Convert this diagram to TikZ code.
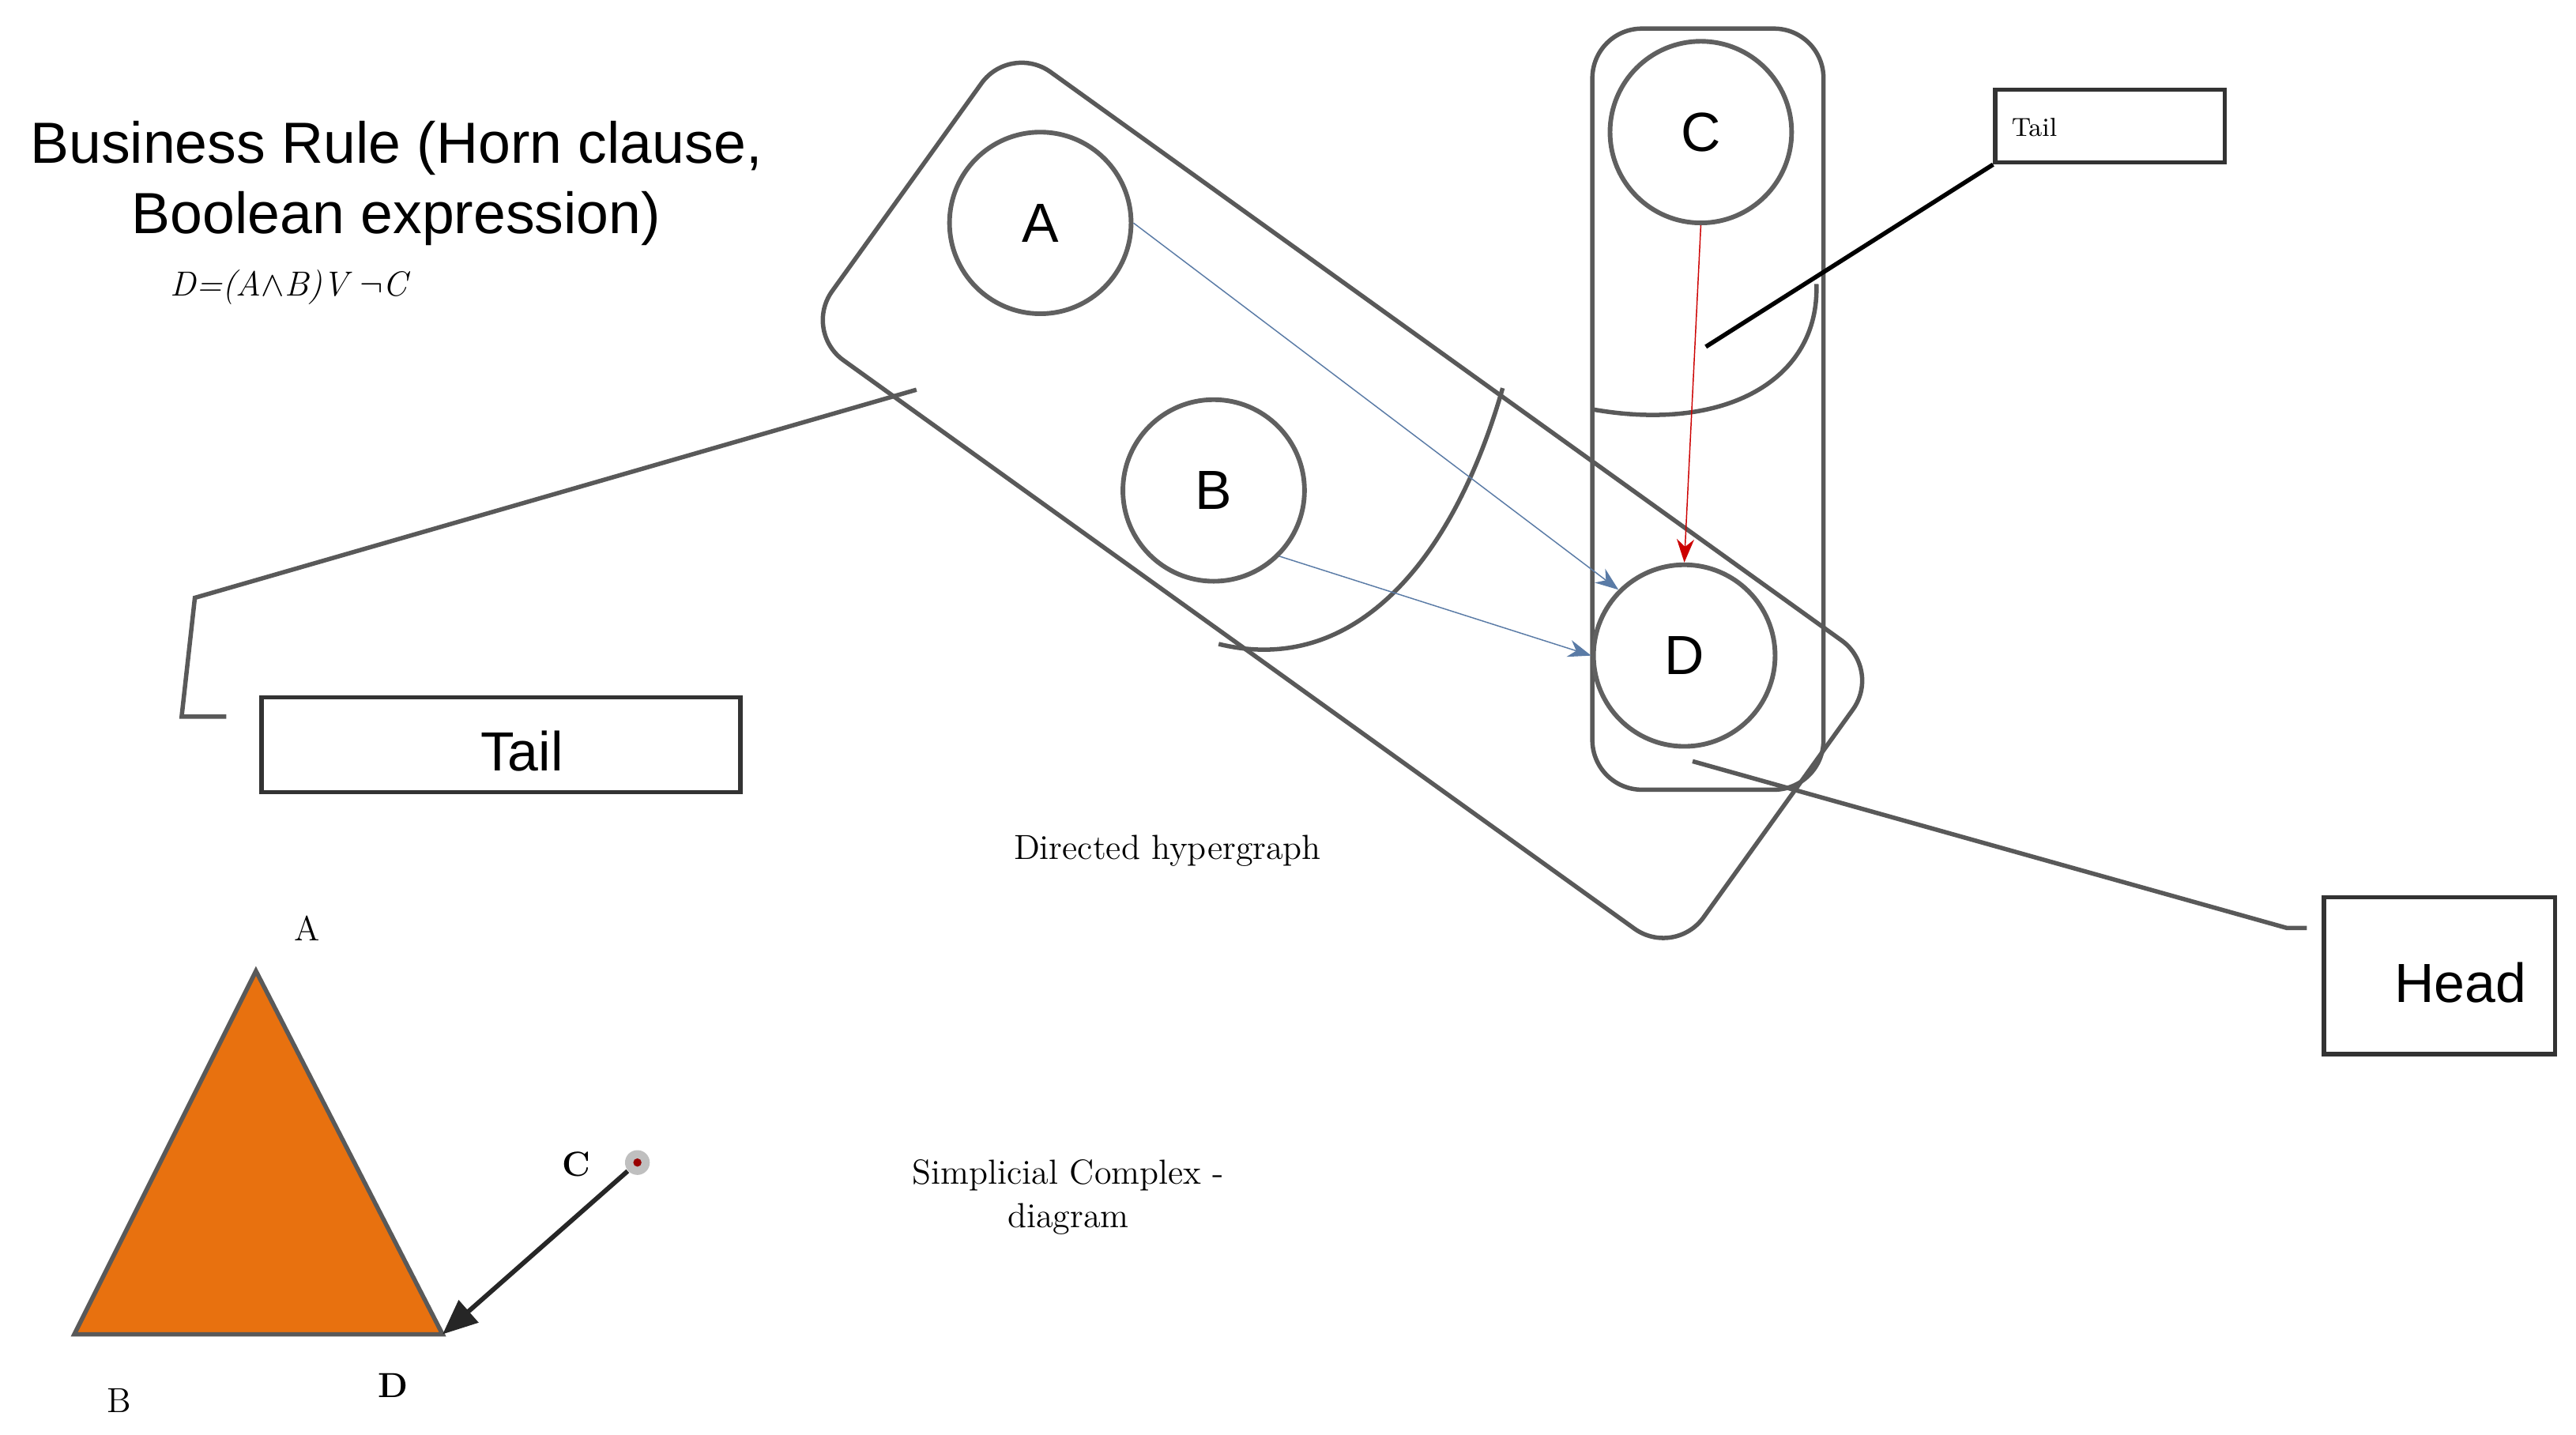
\documentclass[tikz,border=0pt]{standalone}
\usepackage{fontspec}
\newfontfamily\sansf{Liberation Sans}
\usetikzlibrary{arrows.meta}
\definecolor{orangefill}{HTML}{E8710F}
\definecolor{edgeblue}{HTML}{5A7BA6}
\begin{document}
\begin{tikzpicture}[x=0.02cm,y=-0.02cm,
  vertex/.style={circle,draw=gray!75!black,line width=1.6pt,minimum size=2.2cm,font=\sansf\fontsize{19}{19}\selectfont},
  hedge/.style={draw=gray!70!black,line width=1.5pt,rounded corners=0.6cm},
  callout/.style={draw=black!80,line width=1.5pt},
  lead/.style={gray!70!black,line width=1.5pt}]
\useasboundingbox (0,0) rectangle (1560,869);

\node[font=\sansf\fontsize{20}{24}\selectfont,align=center] (title) at (240,111) {Business Rule (Horn clause,\\Boolean expression)};
\node[font=\itshape\fontsize{12}{12}\selectfont] (formula) at (175,174) {D=(A$\wedge$B)V $\neg$C};

% hyperedges
\node[hedge,rotate=-35.7,minimum width=13.0cm,minimum height=4.3cm] (big) at (813,303) {};
\node[hedge,minimum width=2.8cm,minimum height=9.22cm,anchor=north west] (tall) at (963,16) {};
\draw[lead] (910,235) .. controls (880,340) and (820,410) .. (738,390);
\draw[lead] (1100,172) .. controls (1102,230) and (1045,262) .. (965,248);

% vertices
\node[vertex] (A) at (630,135) {A};
\node[vertex] (B) at (735,297) {B};
\node[vertex] (C) at (1030,80) {C};
\node[vertex] (D) at (1020,397) {D};

\draw[edgeblue,-{Stealth[length=8pt,width=6pt]}] (A.east) -- (D.north west);
\draw[edgeblue,-{Stealth[length=8pt,width=6pt]}] (B.-45) -- (D.west);
\draw[red!80!black,-{Stealth[length=8pt,width=6pt]}] (C.south) -- (D.north);

% callouts
\node[callout,minimum width=2.78cm,minimum height=0.88cm,anchor=north west] (tailS) at (1207,53) {};
\node[anchor=west,font=\fontsize{9}{9}\selectfont] at (1212,77) {Tail};
\coordinate (tailSp) at (1033,210);
\draw[black,line width=1.5pt] (tailS.south west) -- (tailSp);

\node[callout,minimum width=5.8cm,minimum height=1.15cm,anchor=north west] (tailL) at (157,421) {};
\node[font=\sansf\fontsize{19}{19}\selectfont] at (316,455) {Tail};
\coordinate (tailLp) at (555,236);
\draw[lead] (tailLp) -- (118,362) -- (110,434) -- (137,434);

\node[callout,minimum width=2.8cm,minimum height=1.9cm,anchor=north west] (head) at (1406,542) {};
\node[font=\sansf\fontsize{19}{19}\selectfont] at (1490,595) {Head};
\coordinate (headp) at (1025,461);
\draw[lead] (headp) -- (1385,562) -- (1397,562);

\node[font=\fontsize{12}{12}\selectfont] (dh) at (707,515) {Directed hypergraph};
\node[font=\fontsize{12}{15}\selectfont,align=center] (sc) at (647,725) {Simplicial Complex -\\diagram};

% simplicial complex
\coordinate (tA) at (155,588);
\coordinate (tB) at (45,808);
\coordinate (tD) at (268,808);
\draw[fill=orangefill,draw=gray!70!black,line width=1.5pt] (tA) -- (tB) -- (tD) -- cycle;
\node[font=\fontsize{12}{12}\selectfont] at (186,562) {A};
\node[font=\fontsize{12}{12}\selectfont] at (72,848) {B};
\node[font=\bfseries\fontsize{12}{12}\selectfont] at (238,839) {D};
\node[font=\bfseries\fontsize{12}{12}\selectfont] at (349,705) {C};
\node[circle,fill=gray!50,inner sep=0pt,minimum size=0.3cm] (tC) at (386,704) {};
\fill[red!60!black] (tC) circle[radius=2.5];
\draw[gray!30!black,line width=1.6pt,-{Triangle[length=12pt,width=10pt]}] (tC) -- (tD);
\end{tikzpicture}
\end{document}
